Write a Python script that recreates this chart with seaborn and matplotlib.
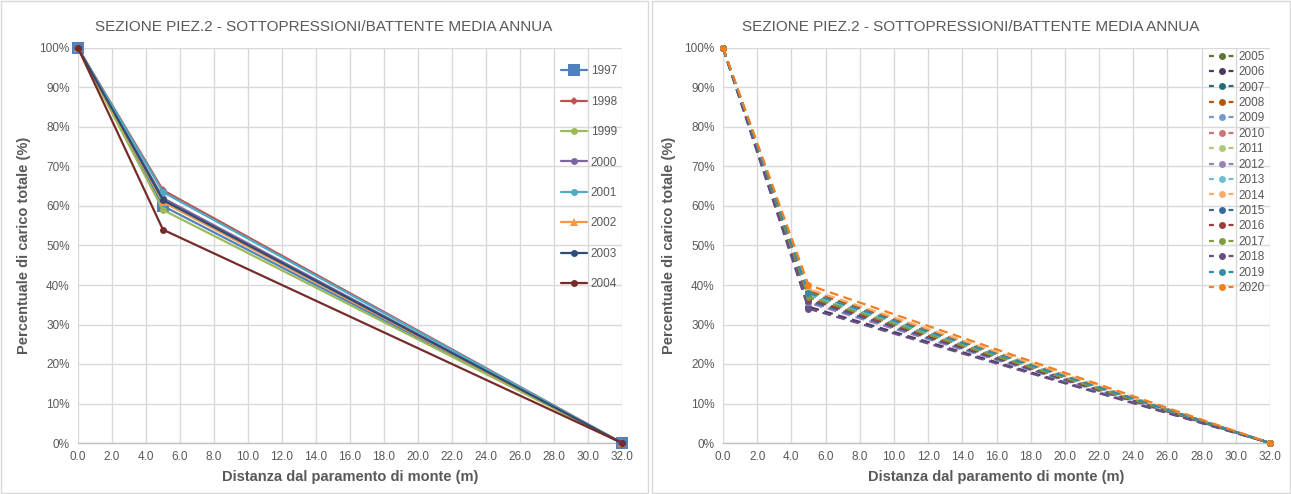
import matplotlib
matplotlib.use("Agg")
import matplotlib.pyplot as plt
import matplotlib.ticker as mticker
from matplotlib.patches import Rectangle
import pandas as pd
import seaborn as sns

# ---------------- data ----------------
distanze = [0.0, 5.0, 32.0]

anni_sx = ["1997", "1998", "1999", "2000", "2001", "2002", "2003", "2004"]
valori_sx = [
    [100, 60.0, 0],
    [100, 64.0, 0],
    [100, 59.0, 0],
    [100, 62.0, 0],
    [100, 63.5, 0],
    [100, 61.0, 0],
    [100, 61.5, 0],
    [100, 54.0, 0],
]
colori_sx = ["#4F81BD", "#C0504D", "#9BBB59", "#8064A2", "#4BACC6", "#F79646", "#2C4D75", "#772C2A"]
marker_sx = ["s", "D", "o", "o", "o", "^", "o", "o"]
msize_sx = [8, 4, 5, 5, 5, 6, 5, 5]

anni_dx = ["2005", "2006", "2007", "2008", "2009", "2010", "2011", "2012",
           "2013", "2014", "2015", "2016", "2017", "2018", "2019", "2020"]
valori_dx = [
    [100, 37.0, 0],
    [100, 34.5, 0],
    [100, 37.5, 0],
    [100, 38.5, 0],
    [100, 36.0, 0],
    [100, 36.5, 0],
    [100, 37.0, 0],
    [100, 35.5, 0],
    [100, 37.5, 0],
    [100, 39.0, 0],
    [100, 36.0, 0],
    [100, 36.5, 0],
    [100, 37.0, 0],
    [100, 34.0, 0],
    [100, 38.0, 0],
    [100, 40.0, 0],
]
colori_dx = ["#5F7530", "#4D3B62", "#276A7C", "#B65708", "#729ACA", "#CD7371", "#AFC97A", "#9983B5",
             "#6FBDD1", "#F9AB6B", "#3A679C", "#9F3B38", "#7E9C40", "#664F83", "#358DA5", "#F08020"]

titolo = "SEZIONE PIEZ.2 - SOTTOPRESSIONI/BATTENTE MEDIA ANNUA"
xlabel = "Distanza dal paramento di monte (m)"
ylabel = "Percentuale di carico totale (%)"
xticks = [float(v) for v in range(0, 33, 2)]
yticks = [v / 100 for v in range(0, 101, 10)]

# ---------------- style ----------------
sns.set_theme(style="white")
plt.rcParams["font.family"] = ["Liberation Sans", "DejaVu Sans"]
TXT = "#595959"
GRID = "#D9D9D9"

fig = plt.figure(figsize=(12.91, 4.94), dpi=100)

# panel borders
for x0, w in [(1, 647), (652, 638)]:
    fig.patches.append(Rectangle((x0 / 1291, 1 / 494), w / 1291, 492 / 494,
                                 transform=fig.transFigure, fill=False,
                                 edgecolor=GRID, linewidth=1.0))

ax1 = fig.add_axes([78 / 1291, 1 - 443 / 494, 544 / 1291, 395 / 494])
ax2 = fig.add_axes([723 / 1291, 1 - 443 / 494, 547 / 1291, 395 / 494])


def make_df(anni, valori):
    rows = []
    for a, vals in zip(anni, valori):
        for d, v in zip(distanze, vals):
            rows.append({"Anno": a, "Distanza": d, "Valore": v / 100})
    return pd.DataFrame(rows)


df_sx = make_df(anni_sx, valori_sx)
df_dx = make_df(anni_dx, valori_dx)

for a, c, m, ms in zip(anni_sx, colori_sx, marker_sx, msize_sx):
    sub = df_sx[df_sx["Anno"] == a]
    sns.lineplot(data=sub, x="Distanza", y="Valore", ax=ax1, color=c, marker=m,
                 markersize=ms, markeredgewidth=0, linewidth=1.6, label=a,
                 clip_on=False, zorder=3)

for a, c in zip(anni_dx, colori_dx):
    sub = df_dx[df_dx["Anno"] == a]
    sns.lineplot(data=sub, x="Distanza", y="Valore", ax=ax2, color=c, marker="o",
                 markersize=5, markeredgewidth=0, linewidth=1.6, label=a,
                 dashes=False, clip_on=False, zorder=3)
    ax2.lines[-1].set_dashes([4, 2.5])

for ax in (ax1, ax2):
    ax.set_xlim(0, 32)
    ax.set_ylim(0, 1)
    ax.set_xticks(xticks)
    ax.set_yticks(yticks)
    ax.xaxis.set_major_formatter(mticker.FormatStrFormatter("%.1f"))
    ax.yaxis.set_major_formatter(mticker.PercentFormatter(1.0, decimals=0))
    ax.grid(True, color=GRID, linewidth=1.0)
    ax.set_axisbelow(True)
    for s in ["top", "right", "left"]:
        ax.spines[s].set_visible(False)
    ax.spines["bottom"].set_color("#BFBFBF")
    ax.spines["bottom"].set_linewidth(1.0)
    ax.tick_params(axis="both", length=0, labelsize=8.5, colors=TXT, pad=6)
    ax.set_xlabel(xlabel, fontsize=10.5, fontweight="bold", color=TXT, labelpad=5)
    ax.set_ylabel(ylabel, fontsize=10.5, fontweight="bold", color=TXT, labelpad=6)

fig.text(324 / 1291, 1 - 27 / 494, titolo, ha="center", va="center", fontsize=11, color=TXT)
fig.text(971 / 1291, 1 - 27 / 494, titolo, ha="center", va="center", fontsize=11, color=TXT)

leg1 = ax1.legend(loc="upper right", bbox_to_anchor=(1.0, 0.968), frameon=False,
                  fontsize=8.5, labelspacing=1.56, handlelength=2.2, handletextpad=0.3,
                  borderaxespad=0)
for t in leg1.get_texts():
    t.set_color(TXT)

leg2 = ax2.legend(loc="upper right", bbox_to_anchor=(1.0, 1.005), frameon=False,
                  fontsize=8.5, labelspacing=0.29, handlelength=2.2, handletextpad=0.3,
                  borderaxespad=0)
for t in leg2.get_texts():
    t.set_color(TXT)
for h in leg2.legend_handles:
    h.set_dashes([2.2, 6.6])

fig.savefig("out.png", dpi=100, facecolor="white")
